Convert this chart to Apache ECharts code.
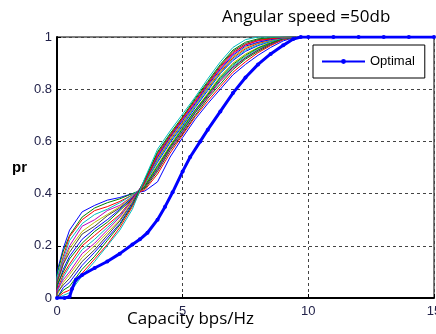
<!DOCTYPE html>
<html>
<head>
<meta charset="utf-8">
<script src="https://cdn.jsdelivr.net/npm/echarts@6/dist/echarts.min.js"></script>
<style>
  html, body { margin: 0; padding: 0; background: #fff; }
  #chart { width: 436px; height: 334px; }
</style>
</head>
<body>
<div id="chart"></div>
<script>
// capacity grid shared by the thin curves (x=0 twice: vertical jump at the origin)
const capX = [0, 0, 0.25, 0.5, 1, 1.5, 2, 2.5, 3, 3.5, 4, 4.5, 5, 5.5, 6, 6.5, 7, 7.5, 8, 8.5, 9, 9.5];

// thin CDF curves
const thinCurves = [
  [0, 0.10, 0.19, 0.26, 0.33, 0.355, 0.375, 0.385, 0.40, 0.41, 0.445, 0.54, 0.615, 0.685, 0.745, 0.80, 0.855, 0.895, 0.93, 0.96, 0.985, 1],
  [0, 0.09, 0.18, 0.24, 0.31, 0.345, 0.365, 0.38, 0.40, 0.42, 0.485, 0.565, 0.63, 0.70, 0.765, 0.82, 0.875, 0.915, 0.945, 0.97, 0.99, 1],
  [0, 0.07, 0.16, 0.235, 0.30, 0.335, 0.35, 0.37, 0.395, 0.415, 0.475, 0.555, 0.625, 0.695, 0.755, 0.81, 0.865, 0.905, 0.94, 0.967, 0.99, 1],
  [0, 0.08, 0.15, 0.22, 0.285, 0.32, 0.34, 0.365, 0.395, 0.43, 0.50, 0.58, 0.645, 0.715, 0.78, 0.84, 0.89, 0.925, 0.955, 0.975, 0.993, 1],
  [0, 0.06, 0.14, 0.20, 0.275, 0.30, 0.335, 0.355, 0.39, 0.425, 0.49, 0.57, 0.635, 0.71, 0.77, 0.83, 0.88, 0.92, 0.95, 0.972, 0.992, 1],
  [0, 0.05, 0.13, 0.19, 0.255, 0.29, 0.32, 0.35, 0.39, 0.435, 0.51, 0.585, 0.655, 0.72, 0.785, 0.85, 0.90, 0.935, 0.96, 0.98, 0.994, 1],
  [0, 0.06, 0.13, 0.175, 0.245, 0.275, 0.315, 0.345, 0.385, 0.425, 0.495, 0.575, 0.64, 0.71, 0.775, 0.835, 0.885, 0.92, 0.95, 0.974, 0.993, 1],
  [0, 0.04, 0.11, 0.16, 0.225, 0.265, 0.30, 0.34, 0.385, 0.44, 0.52, 0.595, 0.66, 0.73, 0.795, 0.86, 0.91, 0.945, 0.967, 0.983, 0.995, 1],
  [0, 0.05, 0.10, 0.15, 0.21, 0.255, 0.29, 0.335, 0.38, 0.43, 0.505, 0.58, 0.65, 0.72, 0.78, 0.845, 0.895, 0.93, 0.958, 0.977, 0.994, 1],
  [0, 0.03, 0.09, 0.13, 0.20, 0.24, 0.28, 0.32, 0.38, 0.44, 0.53, 0.605, 0.67, 0.74, 0.805, 0.865, 0.92, 0.955, 0.975, 0.986, 0.996, 1],
  [0, 0.02, 0.08, 0.12, 0.185, 0.225, 0.27, 0.315, 0.375, 0.44, 0.525, 0.60, 0.665, 0.735, 0.80, 0.86, 0.915, 0.95, 0.97, 0.984, 0.996, 1],
  [0, 0.03, 0.07, 0.10, 0.17, 0.21, 0.26, 0.31, 0.375, 0.45, 0.545, 0.62, 0.685, 0.75, 0.82, 0.88, 0.935, 0.97, 0.985, 0.992, 0.998, 1],
  [0, 0.01, 0.06, 0.09, 0.155, 0.20, 0.25, 0.30, 0.37, 0.445, 0.535, 0.61, 0.675, 0.74, 0.81, 0.87, 0.925, 0.96, 0.978, 0.988, 0.997, 1],
  [0, 0.02, 0.05, 0.075, 0.14, 0.185, 0.24, 0.295, 0.365, 0.455, 0.555, 0.625, 0.69, 0.76, 0.825, 0.89, 0.945, 0.975, 0.99, 0.995, 0.999, 1],
  [0, 0.0, 0.04, 0.06, 0.125, 0.175, 0.23, 0.285, 0.36, 0.445, 0.54, 0.615, 0.68, 0.745, 0.815, 0.875, 0.93, 0.965, 0.98, 0.99, 0.997, 1],
  [0, 0.0, 0.03, 0.045, 0.11, 0.16, 0.22, 0.28, 0.355, 0.455, 0.56, 0.63, 0.695, 0.765, 0.83, 0.895, 0.95, 0.98, 0.993, 0.997, 0.999, 1],
  [0, 0.0, 0.02, 0.03, 0.095, 0.15, 0.205, 0.27, 0.35, 0.445, 0.55, 0.62, 0.69, 0.755, 0.82, 0.885, 0.94, 0.97, 0.987, 0.993, 0.998, 1],
  [0, 0.0, 0.01, 0.02, 0.085, 0.14, 0.20, 0.26, 0.34, 0.46, 0.57, 0.64, 0.705, 0.77, 0.84, 0.905, 0.96, 0.99, 1, 1, 1, 1]
];

// MATLAB-style colour order for the thin curves
const thinColors = ['#0000ff', '#008000', '#ff0000', '#00bfbf', '#bf00bf', '#bfbf00', '#404040'];

// the thick "Optimal" curve
const optimalX = [0, 0.3, 0.5, 0.6, 0.75, 1, 1.5, 2, 2.5, 3, 3.3, 3.6, 4, 4.3, 4.6, 5, 5.3, 5.7, 6, 6.5, 7, 7.5, 8, 8.5, 9, 9.4, 9.7, 10, 11, 12, 13, 14, 15];
const optimalY = [0, 0, 0.005, 0.035, 0.07, 0.088, 0.115, 0.14, 0.17, 0.205, 0.225, 0.25, 0.3, 0.35, 0.405, 0.485, 0.54, 0.6, 0.645, 0.715, 0.785, 0.845, 0.895, 0.935, 0.968, 0.992, 1, 1, 1, 1, 1, 1, 1];

const xTicks = { min: 0, max: 15, interval: 5 };
const yTicks = { min: 0, max: 1, interval: 0.2 };

const chart = echarts.init(document.getElementById('chart'));

const series = thinCurves.map((vals, i) => ({
  type: 'line',
  data: capX.map((x, j) => [x, vals[j]]),
  showSymbol: false,
  lineStyle: { width: 1, color: thinColors[i % thinColors.length] },
  z: 2,
}));

series.push({
  name: 'Optimal',
  type: 'line',
  data: optimalX.map((x, i) => [x, optimalY[i]]),
  symbol: 'circle',
  symbolSize: 4,
  itemStyle: { color: '#0000ff' },
  lineStyle: { width: 3, color: '#0000ff' },
  z: 5,
});

const gridLine = { show: true, lineStyle: { color: '#444', type: [3, 3], width: 1 } };
const tickLabel = { color: '#22224a', fontFamily: 'Arial', fontSize: 13 };

chart.setOption({
  animation: false,
  backgroundColor: '#fff',
  grid: {
    left: 57, top: 37, right: 2, bottom: 36,
    outerBoundsMode: 'none',
    show: true, borderColor: '#000', borderWidth: 1,
  },
  title: {
    text: 'Angular speed =50db',
    left: 222, top: 9, padding: 0,
    textStyle: { fontFamily: 'Open Sans', fontSize: 17, fontWeight: 'normal', color: '#000' },
  },
  legend: {
    data: ['Optimal'],
    left: 313, top: 45,
    padding: [10, 10, 10, 8],
    itemWidth: 43, itemHeight: 6, itemGap: 4,
    backgroundColor: '#fff',
    borderColor: '#000', borderWidth: 1, borderRadius: 0,
    textStyle: { fontFamily: 'Arial', fontSize: 13, color: '#000' },
  },
  xAxis: {
    type: 'value',
    ...xTicks,
    axisLine: { show: true, onZero: false, lineStyle: { color: '#000', width: 2 } },
    axisTick: { show: true, inside: true, length: 4, lineStyle: { color: '#000' } },
    axisLabel: { ...tickLabel, margin: 7 },
    splitLine: gridLine,
  },
  yAxis: {
    type: 'value',
    ...yTicks,
    axisLine: { show: true, onZero: false, lineStyle: { color: '#000', width: 2 } },
    axisTick: { show: true, inside: true, length: 4, lineStyle: { color: '#000' } },
    axisLabel: { ...tickLabel, margin: 5 },
    splitLine: gridLine,
  },
  graphic: [
    {
      type: 'text', left: 12, top: 160,
      style: { text: 'pr', font: 'bold 15px Arial', fill: '#000' },
    },
    {
      type: 'text', left: 127, top: 311,
      style: { text: 'Capacity bps/Hz', font: '17px "Open Sans"', fill: '#000' },
    },
  ],
  series: series,
});
</script>
</body>
</html>
